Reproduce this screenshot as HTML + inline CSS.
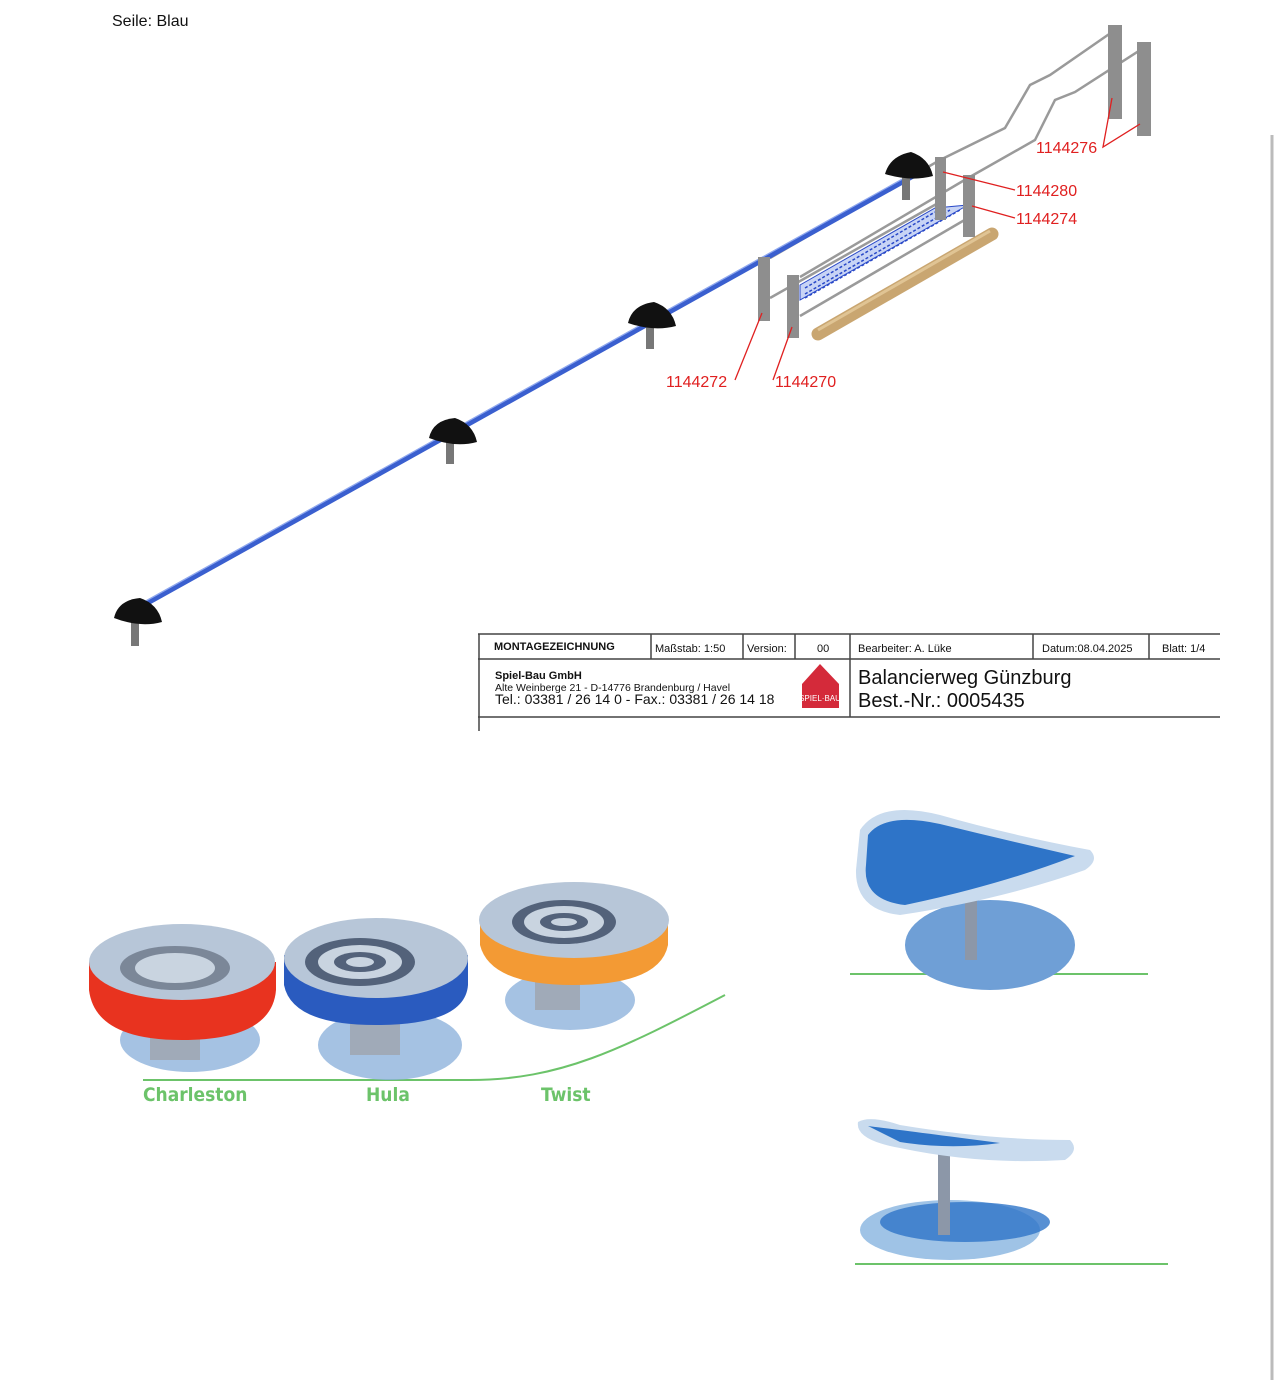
<!DOCTYPE html>
<html><head><meta charset="utf-8"><style>
body{margin:0;background:#fff;width:1277px;height:1380px;overflow:hidden;font-family:"Liberation Sans",sans-serif}
svg{position:absolute;left:0;top:0}
</style></head><body>
<svg width="1277" height="1380" viewBox="0 0 1277 1380" font-family="Liberation Sans, sans-serif">
<text x="112" y="26" font-size="16" fill="#111">Seile: Blau</text>
<line x1="1272" y1="135" x2="1272" y2="1380" stroke="#bbb" stroke-width="3"/>
<!-- rails -->
<g stroke="#9a9a9a" stroke-width="2.5" fill="none">
<path d="M770 258 L940 160 L1005 128 L1030 85 L1050 75 L1115 30"/>
<path d="M800 277 L968 178 L1035 140 L1055 100 L1075 92 L1145 47"/>
<path d="M770 298 L940 202"/>
<path d="M800 316 L968 218"/>
</g>
<!-- net -->
<path d="M800 285 L935 208 L968 205 L800 300 Z" fill="#c8d4f5" stroke="#2848c8" stroke-width="1"/>
<path d="M805 288 L935 212 M805 294 L950 210 M805 298 L960 210" stroke="#2848c8" stroke-width="1.5" stroke-dasharray="3 2"/>
<!-- rope -->
<line x1="135" y1="610" x2="915" y2="175" stroke="#3a5fcf" stroke-width="5"/>
<line x1="135" y1="607" x2="915" y2="172" stroke="#8fa8ee" stroke-width="1.3"/>
<!-- log -->
<line x1="818" y1="334" x2="992" y2="234" stroke="#c9a671" stroke-width="13" stroke-linecap="round"/>
<line x1="818" y1="330" x2="990" y2="231" stroke="#e0c494" stroke-width="3"/>
<!-- posts -->
<g fill="#8e8e8e">
<rect x="758" y="257" width="12" height="64"/>
<rect x="787" y="275" width="12" height="63"/>
<rect x="935" y="157" width="11" height="63"/>
<rect x="963" y="175" width="12" height="62"/>
<rect x="1108" y="25" width="14" height="94"/>
<rect x="1137" y="42" width="14" height="94"/>
</g>
<!-- caps -->
<g>
<rect x="131" y="620" width="8" height="26" fill="#777"/>
<path d="M114 618 Q118 600 140 598 Q158 604 162 622 Q140 628 114 618Z" fill="#111"/>
<rect x="446" y="440" width="8" height="24" fill="#777"/>
<path d="M429 438 Q433 420 455 418 Q473 424 477 442 Q455 448 429 438Z" fill="#111"/>
<rect x="646" y="325" width="8" height="24" fill="#777"/>
<path d="M628 323 Q632 305 654 302 Q672 308 676 326 Q654 332 628 323Z" fill="#111"/>
<rect x="902" y="176" width="8" height="24" fill="#777"/>
<path d="M885 174 Q890 156 911 152 Q929 158 933 176 Q911 182 885 174Z" fill="#111"/>
</g>
<!-- leader lines -->
<g stroke="#e02020" stroke-width="1.3" fill="none">
<path d="M762 313 L735 380"/><path d="M792 327 L773 380"/>
<path d="M943 172 L1015 190"/><path d="M972 206 L1015 218"/>
<path d="M1112 98 L1103 147 L1140 124"/>
</g>
<g fill="#e02020" font-size="16">
<text x="666" y="387">1144272</text><text x="775" y="387">1144270</text>
<text x="1016" y="196">1144280</text><text x="1016" y="224">1144274</text>
<text x="1036" y="153">1144276</text>
</g>
<!-- title block -->
<g stroke="#444" stroke-width="1.5" fill="none">
<line x1="478" y1="634" x2="1220" y2="634"/><line x1="478" y1="659" x2="1220" y2="659"/>
<line x1="478" y1="717" x2="1220" y2="717"/><line x1="479" y1="634" x2="479" y2="731"/>
<line x1="651" y1="634" x2="651" y2="659"/><line x1="743" y1="634" x2="743" y2="659"/>
<line x1="795" y1="634" x2="795" y2="659"/><line x1="850" y1="634" x2="850" y2="717"/>
<line x1="1033" y1="634" x2="1033" y2="659"/><line x1="1149" y1="634" x2="1149" y2="659"/>
</g>
<g font-size="11" fill="#111">
<text x="494" y="650" font-weight="bold">MONTAGEZEICHNUNG</text>
<text x="655" y="652">Maßstab: 1:50</text><text x="747" y="652">Version:</text>
<text x="817" y="652">00</text><text x="858" y="652">Bearbeiter: A. Lüke</text>
<text x="1042" y="652">Datum:08.04.2025</text><text x="1162" y="652">Blatt: 1/4</text>
<text x="495" y="679" font-weight="bold">Spiel-Bau GmbH</text>
<text x="495" y="691" font-size="10.5">Alte Weinberge 21 - D-14776 Brandenburg / Havel</text>
<text x="495" y="704" font-size="14">Tel.: 03381 / 26 14 0 - Fax.: 03381 / 26 14 18</text>
</g>
<path d="M820 664 L839 684 L839 708 L802 708 L802 684 Z" fill="#d42a3a"/>
<text x="820" y="701" font-size="8" fill="#fff" text-anchor="middle">SPIEL·BAU</text>
<text x="858" y="684" font-size="20" fill="#111">Balancierweg Günzburg</text>
<text x="858" y="707" font-size="20" fill="#111">Best.-Nr.: 0005435</text>
<!-- green ground -->
<path d="M143 1080 L470 1080 C560 1080 620 1050 725 995" stroke="#6cc36a" stroke-width="2" fill="none"/>
<!-- discs -->
<g>
<ellipse cx="190" cy="1040" rx="70" ry="32" fill="#8fb3dc" opacity=".8"/>
<rect x="150" y="1010" width="50" height="50" fill="#a0aab8"/>
<path d="M89 962 L89 990 Q95 1040 182 1040 Q272 1040 276 990 L276 962Z" fill="#e8331f"/>
<ellipse cx="182" cy="962" rx="93" ry="38" fill="#b7c6d8"/>
<ellipse cx="175" cy="968" rx="55" ry="22" fill="#7b8798"/>
<ellipse cx="175" cy="968" rx="40" ry="15" fill="#c9d4e0"/>
<ellipse cx="390" cy="1045" rx="72" ry="35" fill="#8fb3dc" opacity=".8"/>
<rect x="350" y="1000" width="50" height="55" fill="#a0aab8"/>
<path d="M284 955 L284 985 Q292 1025 376 1025 Q465 1025 468 985 L468 955Z" fill="#2a5bbf"/>
<ellipse cx="376" cy="958" rx="92" ry="40" fill="#b7c6d8"/>
<ellipse cx="360" cy="962" rx="55" ry="24" fill="#53627a"/>
<ellipse cx="360" cy="962" rx="42" ry="17" fill="#c9d4e0"/>
<ellipse cx="360" cy="962" rx="26" ry="10" fill="#53627a"/>
<ellipse cx="360" cy="962" rx="14" ry="5" fill="#c9d4e0"/>
<ellipse cx="570" cy="1000" rx="65" ry="30" fill="#8fb3dc" opacity=".8"/>
<rect x="535" y="960" width="45" height="50" fill="#a0aab8"/>
<path d="M480 920 L480 945 Q490 985 573 985 Q660 985 668 945 L668 920Z" fill="#f39a34"/>
<ellipse cx="574" cy="920" rx="95" ry="38" fill="#b7c6d8"/>
<ellipse cx="564" cy="922" rx="52" ry="22" fill="#53627a"/>
<ellipse cx="564" cy="922" rx="40" ry="16" fill="#c9d4e0"/>
<ellipse cx="564" cy="922" rx="24" ry="9" fill="#53627a"/>
<ellipse cx="564" cy="922" rx="13" ry="4" fill="#c9d4e0"/>
</g>
<g font-size="19" font-weight="bold" fill="#6cc36a" font-family="DejaVu Sans Condensed, Liberation Sans, sans-serif">
<text x="143" y="1101">Charleston</text><text x="366" y="1101">Hula</text><text x="541" y="1101">Twist</text>
</g>
<!-- right top seat -->
<line x1="850" y1="974" x2="1148" y2="974" stroke="#6cc36a" stroke-width="2"/>
<ellipse cx="990" cy="945" rx="85" ry="45" fill="#6f9fd6"/>
<rect x="965" y="900" width="12" height="60" fill="#8c97a8"/>
<path d="M860 830 Q880 800 940 815 Q1010 835 1090 850 Q1100 860 1085 870 Q1000 900 900 915 Q855 910 856 870Z" fill="#c9dbee"/>
<path d="M868 835 Q885 812 940 824 Q1005 840 1075 856 Q1000 885 905 905 Q862 900 866 865Z" fill="#2e74c8"/>
<!-- right bottom seat -->
<line x1="855" y1="1264" x2="1168" y2="1264" stroke="#6cc36a" stroke-width="2"/>
<ellipse cx="950" cy="1230" rx="90" ry="30" fill="#9fc3e6"/>
<ellipse cx="965" cy="1222" rx="85" ry="20" fill="#2e74c8" opacity=".8"/>
<rect x="938" y="1150" width="12" height="85" fill="#8c97a8"/>
<path d="M858 1122 Q870 1115 900 1125 Q990 1140 1070 1140 Q1080 1150 1065 1160 Q980 1165 900 1148 Q855 1140 858 1122Z" fill="#c9dbee"/>
<path d="M868 1126 Q900 1130 1000 1143 Q950 1150 900 1142 Z" fill="#2e74c8"/>
</svg>
</body></html>
